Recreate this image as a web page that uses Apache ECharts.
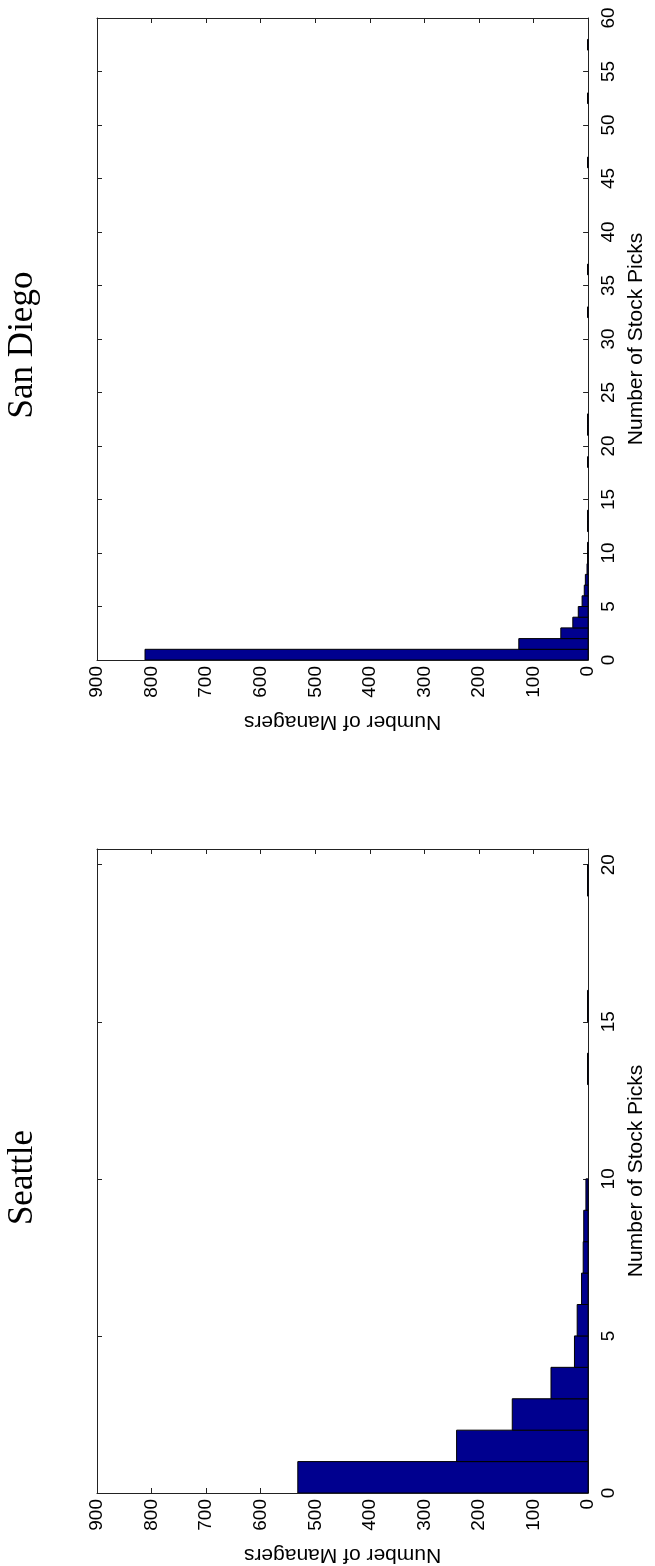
<!DOCTYPE html>
<html>
<head>
<meta charset="utf-8">
<script src="https://cdn.jsdelivr.net/npm/echarts@6/dist/echarts.min.js"></script>
<style>
html,body{margin:0;padding:0;background:#fff;}
#chart{width:655px;height:1566px;}
</style>
</head>
<body>
<div id="chart"></div>
<script>
// ---- Data (histogram bins: lower edge, width 1, count) ----
const titles = ['San Diego', 'Seattle'];
const managersTicks = [0, 900, 100];           // min, max, interval
const sanDiegoEdges  = [0, 1, 2, 3, 4, 5, 6, 7, 8, 9, 10, 12, 13, 18, 21, 22, 32, 36, 46, 52, 57];
const sanDiegoCounts = [812, 127, 50, 28, 18, 11, 7, 5, 2, 1, 1, 1, 1, 1, 1, 1, 1, 1, 1, 1, 1];
const seattleEdges   = [0, 1, 2, 3, 4, 5, 6, 7, 8, 9, 13, 15, 19];
const seattleCounts  = [532, 241, 139, 68, 25, 20, 12, 9, 8, 4, 1, 1, 1];
const picksRange = [[0, 60, 5], [0, 20.5, 5]];  // min, max, interval per panel
const binWidth = 1;

const SANS = '"Liberation Sans", Arial, Helvetica, sans-serif';
const SERIF = '"Liberation Serif", "Times New Roman", serif';
const LINE = '#222222';

const grids = [
  {left: 97, right: 54, top: 18, height: 642},
  {left: 97, right: 54, top: 849, height: 645}
];

function mkData(edges, counts) {
  return edges.map((e, i) => [e, e + binWidth, counts[i]]);
}
const datasets = [mkData(sanDiegoEdges, sanDiegoCounts), mkData(seattleEdges, seattleCounts)];

const xAxes = [], yAxes = [], series = [];
grids.forEach((g, gi) => {
  const base = {
    type: 'value', gridIndex: gi, min: managersTicks[0], max: managersTicks[1],
    interval: managersTicks[2], inverse: true, splitLine: {show: false},
    axisLine: {show: true, onZero: false, lineStyle: {color: LINE, width: 1}},
    axisTick: {show: true, inside: true, length: 5, lineStyle: {color: LINE, width: 1}}
  };
  xAxes.push(Object.assign({}, base, {
    position: 'bottom',
    axisLabel: {show: true, rotate: 90, margin: 6, color: '#000', fontSize: 19, fontFamily: SANS},
    name: 'Number of Managers', nameLocation: 'middle', nameRotate: 180, nameGap: 51,
    nameTextStyle: {color: '#000', fontSize: 21, fontFamily: SANS}
  }));
  xAxes.push(Object.assign({}, base, {position: 'top', axisLabel: {show: false}}));

  const pr = picksRange[gi];
  const ybase = {
    type: 'value', gridIndex: gi, min: pr[0], max: pr[1], interval: pr[2],
    splitLine: {show: false},
    axisLine: {show: true, onZero: false, lineStyle: {color: LINE, width: 1}},
    axisTick: {show: true, inside: true, length: 5, lineStyle: {color: LINE, width: 1}}
  };
  yAxes.push(Object.assign({}, ybase, {
    position: 'right',
    axisLabel: {show: true, rotate: 90, margin: 11, color: '#000', fontSize: 19, fontFamily: SANS,
                showMaxLabel: pr[1] % pr[2] === 0},
    name: 'Number of Stock Picks', nameLocation: 'middle', nameRotate: 90, nameGap: 32,
    nameTextStyle: {color: '#000', fontSize: 21, fontFamily: SANS}
  }));
  yAxes.push(Object.assign({}, ybase, {position: 'left', axisLabel: {show: false}}));

  series.push({
    type: 'custom', xAxisIndex: gi * 2, yAxisIndex: gi * 2, clip: true,
    data: datasets[gi],
    encode: {x: 2, y: [0, 1]},
    renderItem: function (params, api) {
      const lo = api.value(0), hi = api.value(1), v = api.value(2);
      const p0 = api.coord([0, lo]);
      const p1 = api.coord([v, hi]);
      return {
        type: 'rect',
        shape: {x: Math.min(p0[0], p1[0]), y: Math.min(p0[1], p1[1]),
                width: Math.abs(p1[0] - p0[0]), height: Math.abs(p1[1] - p0[1])},
        style: {fill: '#00008F', stroke: '#000', lineWidth: 1}
      };
    }
  });
});

const chart = echarts.init(document.getElementById('chart'), null, {renderer: 'canvas'});
chart.setOption({
  animation: false,
  backgroundColor: '#fff',
  grid: grids,
  xAxis: xAxes,
  yAxis: yAxes,
  series: series,
  graphic: grids.map((g, gi) => ({
    type: 'text', x: 23, y: g.top + g.height / 2 + 6, rotation: Math.PI / 2,
    style: {text: titles[gi], font: '35px ' + SERIF, fill: '#000', textAlign: 'center', textVerticalAlign: 'middle'}
  }))
});
</script>
</body>
</html>
